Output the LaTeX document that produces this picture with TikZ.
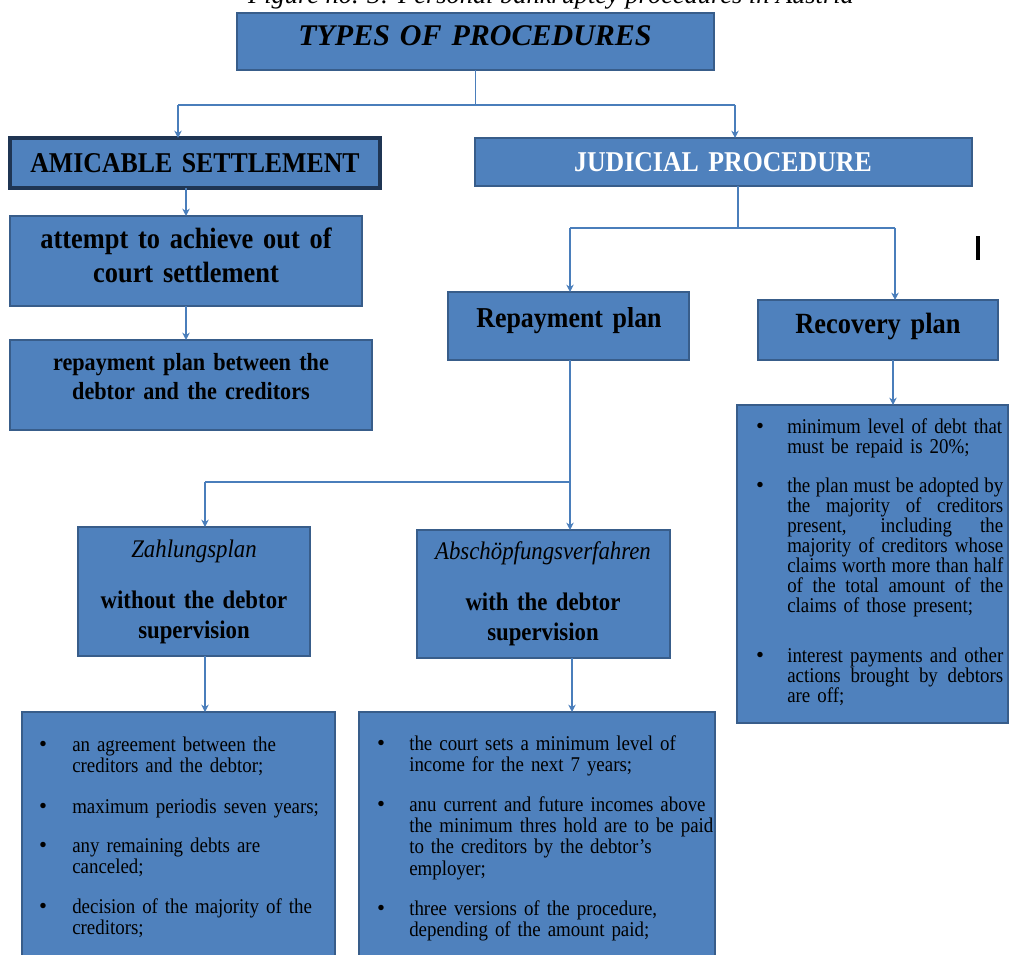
\documentclass[tikz,border=0pt]{standalone}
\usepackage{fontspec}
\setmainfont{Liberation Serif}[FakeStretch=0.9,WordSpace=0.75]
\newfontfamily\plainf{Liberation Serif}
\usetikzlibrary{arrows.meta}
\definecolor{boxfill}{HTML}{4F81BD}
\definecolor{boxline}{HTML}{385D8A}
\definecolor{darkline}{HTML}{1F3553}
\definecolor{connc}{HTML}{4A7EBB}
\newcommand\jl[1]{\leavevmode\hbox to 162pt{\spaceskip=.2em plus 1fil\relax #1}}
\begin{document}
\begin{tikzpicture}[x=0.75pt,y=-0.75pt,
  pbox/.style 2 args={minimum width=#1*0.75pt, minimum height=#2*0.75pt},
  box/.style={draw=boxline, line width=1.5pt, fill=boxfill, anchor=north west, inner sep=0pt, outer sep=0pt},
  hd/.style={anchor=base, inner sep=0pt, align=center, text=black},
  conn/.style={draw=connc, line width=1.1pt},
  arr/.style={conn, -{Stealth[length=5.5pt,width=5.5pt]}},
  bul/.style={anchor=base, inner sep=0pt, font=\plainf\fontsize{17}{18}\selectfont},
  itm/.style={anchor=base west, inner sep=0pt, text width=235pt, align=left, font=\fontsize{15.75}{16.1}\selectfont},
  itmR/.style={anchor=base west, inner sep=0pt, text width=166pt, align=left, font=\fontsize{15.75}{15}\selectfont},
]
\useasboundingbox (0,0) rectangle (1010,955);
\clip (0,0) rectangle (1010,955);

% caption (cut off at the top)
\node[anchor=base, inner sep=0pt, font=\plainf\itshape\fontsize{19.8}{24}\selectfont] (cap) at (551,4) {Figure no. 3: Personal bankruptcy procedures in Austria};

% boxes
\node[box, pbox={477}{57}] (types) at (237,13) {};
\node[hd, text width=360pt, font=\plainf\bfseries\itshape\fontsize{22.5}{27}\selectfont] (typesT) at (475,46) {TYPES OF PROCEDURES};

\node[box, draw=darkline, line width=2.3pt, pbox={370}{50}] (amic) at (10,138) {};
\node[hd, text width=270pt, font=\bfseries\fontsize{21.5}{26}\selectfont] (amicT) at (195,173) {AMICABLE SETTLEMENT};

\node[box, pbox={497}{48}] (judic) at (475,138) {};
\node[hd, text width=300pt, text=white, font=\bfseries\fontsize{21.5}{26}\selectfont] (judicT) at (723,172) {JUDICIAL PROCEDURE};

\node[box, pbox={352}{90}] (attempt) at (10,216) {};
\node[hd, text width=250pt, font=\bfseries\fontsize{22}{25.5}\selectfont] (attemptT) at (186,249) {attempt to achieve out of\\court settlement};

\node[box, pbox={362}{90}] (between) at (10,340) {};
\node[hd, text width=260pt, font=\bfseries\fontsize{18.5}{21.75}\selectfont] (betweenT) at (191,371) {repayment plan between the\\debtor and the creditors};

\node[box, pbox={241}{68}] (rep) at (448,292) {};
\node[hd, text width=170pt, font=\bfseries\fontsize{21.6}{26}\selectfont] (repT) at (569,328) {Repayment plan};

\node[box, pbox={240}{60}] (rec) at (758,300) {};
\node[hd, text width=170pt, font=\bfseries\fontsize{22}{26}\selectfont] (recT) at (878,334) {Recovery plan};

\node[box, pbox={232}{129}] (zahl) at (78,527) {};
\node[hd, text width=170pt, font=\fontsize{19}{22.5}\selectfont] (zahlT) at (194,557) {\textit{Zahlungsplan}\\[15.75pt]\textbf{without the debtor}\\\textbf{supervision}};

\node[box, pbox={253}{128}] (absch) at (417,530) {};
\node[hd, text width=185pt, font=\fontsize{19}{22.5}\selectfont] (abschT) at (543,559) {\textit{Abschöpfungsverfahren}\\[15.75pt]\textbf{with the debtor}\\\textbf{supervision}};

\node[box, pbox={271}{318}] (recL) at (737,405) {};
\node[box, pbox={313}{270}] (leftL) at (22,712) {};
\node[box, pbox={356}{270}] (midL) at (359,712) {};

% stray cursor mark
\fill[black] (976,236) rectangle (979.5,260);

% recovery plan items
\node[bul] (rb1) at (760,433) {\textbullet};
\node[itmR] (ri1) at (787,433) {minimum level of debt that\\must be repaid is 20\%;};
\node[bul] (rb2) at (760,492) {\textbullet};
\node[itmR] (ri2) at (787,492) {\jl{the plan must be adopted by}\\\jl{the majority of creditors}\\\jl{present, including the}\\\jl{majority of creditors whose}\\\jl{claims worth more than half}\\\jl{of the total amount of the}\\claims of those present;};
\node[bul] (rb3) at (760,662) {\textbullet};
\node[itmR] (ri3) at (787,662) {\jl{interest payments and other}\\\jl{actions brought by debtors}\\are off;};

% Zahlungsplan items
\node[bul] (lb1) at (43,751) {\textbullet};
\node[itm] (li1) at (72,751) {an agreement between the\\creditors and the debtor;};
\node[bul] (lb2) at (43,813) {\textbullet};
\node[itm] (li2) at (72,813) {maximum periodis seven years;};
\node[bul] (lb3) at (43,852) {\textbullet};
\node[itm] (li3) at (72,852) {any remaining debts are\\canceled;};
\node[bul] (lb4) at (43,913) {\textbullet};
\node[itm] (li4) at (72,913) {decision of the majority of the\\creditors;};

% Abschoepfungsverfahren items
\node[bul] (mb1) at (381,750) {\textbullet};
\node[itm] (mi1) at (409,750) {the court sets a minimum level of\\income for the next 7 years;};
\node[bul] (mb2) at (381,811) {\textbullet};
\node[itm] (mi2) at (409,811) {anu current and future incomes above\\the minimum thres hold are to be paid\\to the creditors by the debtor’s\\employer;};
\node[bul] (mb3) at (381,915) {\textbullet};
\node[itm] (mi3) at (409,915) {three versions of the procedure,\\depending of the amount paid;};

% connectors
\coordinate (t1) at (178,105);
\coordinate (t2) at (735,105);
\draw[conn] (types.south) -- (types.south |- t1);
\draw[conn] (t1) -- (t2);
\draw[arr] (t1) -- (t1 |- amic.north);
\draw[arr] (t2) -- (t2 |- judic.north);

\draw[arr] (amic.south -| attempt.north) -- (attempt.north);
\draw[arr] (attempt.south) -- (attempt.south |- between.north);

\coordinate (j0) at (738,228);
\coordinate (j1) at (570,228);
\coordinate (j2) at (895,228);
\draw[conn] (j0 |- judic.south) -- (j0);
\draw[conn] (j1) -- (j2);
\draw[arr] (j1) -- (j1 |- rep.north);
\draw[arr] (j2) -- (j2 |- rec.north);

\coordinate (r1) at (205,482);
\coordinate (r2) at (570,482);
\draw[conn] (r2 |- rep.south) -- (r2);
\draw[conn] (r1) -- (r2);
\draw[arr] (r1) -- (r1 |- zahl.north);
\draw[arr] (r2) -- (r2 |- absch.north);

\coordinate (c3) at (893,380);
\draw[arr] (c3 |- rec.south) -- (c3 |- recL.north);
\draw[arr] (r1 |- zahl.south) -- (r1 |- leftL.north);
\coordinate (c4) at (572,690);
\draw[arr] (c4 |- absch.south) -- (c4 |- midL.north);
\end{tikzpicture}
\end{document}
